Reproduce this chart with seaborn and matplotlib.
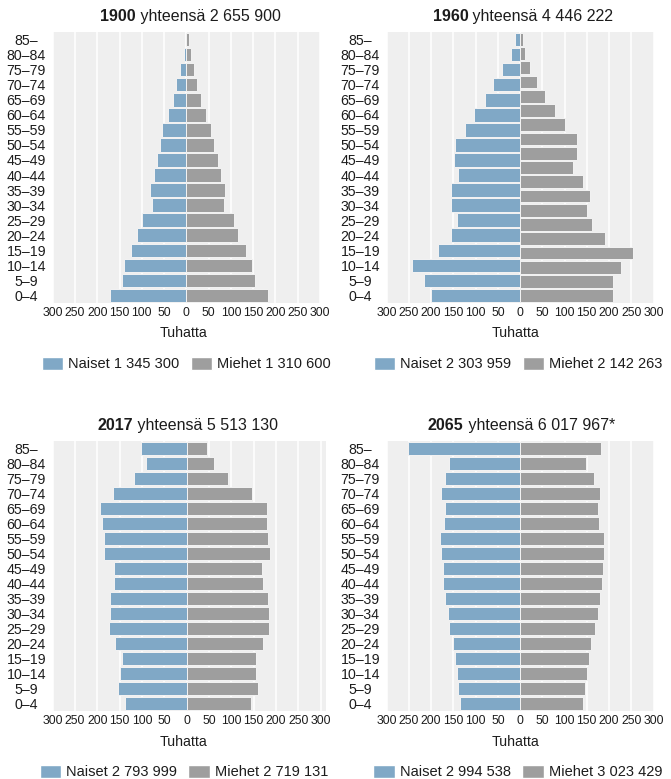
import matplotlib
matplotlib.use("Agg")
import matplotlib.pyplot as plt
import numpy as np
import seaborn as sns
from matplotlib.patches import Patch

# age groups, top to bottom
ages = ["85–", "80–84", "75–79", "70–74", "65–69", "60–64", "55–59", "50–54", "45–49",
        "40–44", "35–39", "30–34", "25–29", "20–24", "15–19", "10–14", "5–9", "0–4"]

years = ["1900", "1960", "2017", "2065"]
totals = ["2 655 900", "4 446 222", "5 513 130", "6 017 967*"]
women_totals = ["1 345 300", "2 303 959", "2 793 999", "2 994 538"]
men_totals = ["1 310 600", "2 142 263", "2 719 131", "3 023 429"]

# thousands
women_1900 = [1.5, 5, 13.5, 24, 31, 42, 54, 60, 67, 72, 81, 78, 100, 110, 124, 139, 145, 172]
men_1900 = [7, 10, 16.5, 25, 33, 43, 55, 63, 72, 77, 87, 84, 106, 117, 133, 148, 154, 183]
women_1960 = [10.5, 21, 40, 61, 79, 104, 123, 147, 148.5, 139.5, 155, 154.5, 142.5, 154.5, 184, 242, 215.5, 201]
# the source draws 19 male bars in this panel
men_1960 = [6, 12, 23, 38, 55, 77.5, 102, 127, 128, 119, 142, 157.5, 150, 161, 191, 253, 226, 210, 210]
women_2017 = [103, 91, 118, 165, 193, 189, 185, 185, 163, 163, 171, 172, 173, 160, 145.5, 149, 153, 137]
men_2017 = [46, 61, 92.5, 145.5, 180, 181, 183, 187, 168, 172, 182, 183.5, 184, 170, 154.5, 156, 160, 145]
women_2065 = [251.5, 161, 169, 179, 170, 171.5, 180, 177.5, 174.5, 173, 168, 163, 159, 151, 146, 143, 139.5, 136]
men_2065 = [181, 149, 166, 180.5, 175, 178, 189.5, 189, 187, 185, 180.5, 175, 168.5, 160, 154, 150, 146, 142.5]

women = [women_1900, women_1960, women_2017, women_2065]
men = [men_1900, men_1960, men_2017, men_2065]

blue = "#80a8c6"
grey = "#9e9e9e"
bg = "#efefef"
txt = "#1c1c1c"

sns.set_theme(style="darkgrid", rc={"axes.facecolor": bg, "grid.color": "white",
                                    "grid.linewidth": 1.1, "axes.edgecolor": "white"})
plt.rcParams["font.family"] = ["Liberation Sans", "DejaVu Sans"]

W, H = 671, 779
fig = plt.figure(figsize=(W / 100, H / 100), dpi=100)
fig.patch.set_facecolor("white")

# plot areas in pixels: left, top, right, bottom
boxes = [(52.7, 32, 320, 303), (386.7, 32, 653.5, 303),
         (52.7, 441, 326, 711), (386.7, 441, 653.5, 711)]
xlims = [(-300, 300), (-300, 300), (-300, 312), (-300, 300)]
title_cx = [190.5, 523, 188, 521.5]
label_cx = [183.7, 515.3, 183.3, 515.3]
legend_cx = [186.3, 518.4, 183.8, 517.8]

titles = []
for i in range(4):
    l, t, r, b = boxes[i]
    ax = fig.add_axes([l / W, 1 - b / H, (r - l) / W, (b - t) / H])
    sns.barplot(x=-np.array(women[i]), y=ages, orient="h", color=blue, saturation=1,
                width=0.9, edgecolor="#f3f3f3", linewidth=0.7, ax=ax)
    # male bars on their own category axis (1960 has an extra bar in the source)
    ax2 = ax.twinx()
    sns.barplot(x=men[i], y=[str(k) for k in range(len(men[i]))], orient="h", color=grey,
                saturation=1, width=0.9, edgecolor="#f3f3f3", linewidth=0.7, ax=ax2)
    ax2.set_yticks([])
    ax2.set_ylabel("")
    ax2.grid(False)

    ax.set_xlim(xlims[i])
    ticks = np.arange(-300, 301, 50)
    ax.set_xticks(ticks)
    ax.set_xticklabels([str(abs(v)) for v in ticks], fontsize=8.8, color=txt)
    ax.yaxis.grid(False)
    ax.set_ylabel("")
    for lbl in ax.get_yticklabels():
        lbl.set_ha("center")
        lbl.set_fontsize(10.2)
        lbl.set_color(txt)
    ax.tick_params(axis="y", length=0, pad=19)
    ax.tick_params(axis="x", length=0, pad=3)
    for a in (ax, ax2):
        for s in a.spines.values():
            s.set_visible(False)

    ax.set_xlabel("Tuhatta", fontsize=10.2, color=txt, va="top")
    ax.xaxis.set_label_coords((label_cx[i] - l) / (r - l), -23.5 / (b - t))

    handles = [Patch(facecolor=blue, label=f"Naiset {women_totals[i]}"),
               Patch(facecolor=grey, label=f"Miehet {men_totals[i]}")]
    ax.legend(handles=handles, loc="upper center", ncol=2, frameon=False, fontsize=10.5,
              bbox_to_anchor=(legend_cx[i] / W, 1 - (b + 54) / H), bbox_transform=fig.transFigure,
              handlelength=1.45, handleheight=0.95, handletextpad=0.35, columnspacing=0.8,
              borderpad=0, borderaxespad=0, labelcolor=txt)

    t1 = fig.text(0, 1 - (t - 11) / H, years[i], fontweight="bold", fontsize=11.5,
                  va="baseline", ha="left", color=txt)
    t2 = ax.annotate(f" yhteensä {totals[i]}", xy=(1, 0), xycoords=t1, va="bottom",
                     ha="left", fontsize=11.5, color=txt)
    titles.append((t1, t2, title_cx[i]))

# centre each two-part title
fig.canvas.draw()
rend = fig.canvas.get_renderer()
for t1, t2, cx in titles:
    b1 = t1.get_window_extent(rend)
    b2 = t2.get_window_extent(rend)
    width = b2.x1 - b1.x0
    t1.set_x((cx - width / 2) / W)

fig.savefig("out.png", dpi=100)
